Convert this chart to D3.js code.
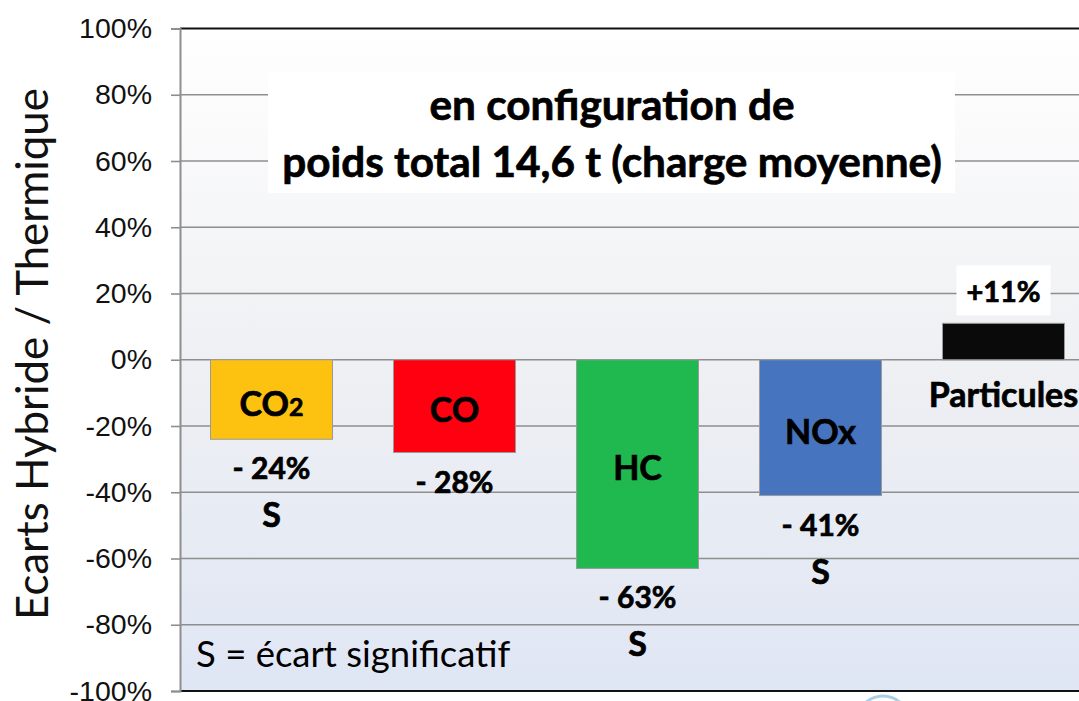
<!DOCTYPE html>
<html>
<head>
<meta charset="utf-8">
<script src="https://cdn.jsdelivr.net/npm/d3@7"></script>
<style>
  body { margin: 0; background: #fff; }
  svg { display: block; }
  .bold { font-family: Lato, 'Open Sans', sans-serif; font-weight: bold; fill: #000; stroke: #000; stroke-width: 0.7px; }
</style>
</head>
<body>
<script>
// chart data
const categories = ["CO2", "CO", "HC", "NOx", "Particules"];
const values = [-24, -28, -63, -41, 11];
const valueLabels = ["- 24%", "- 28%", "- 63%", "- 41%", "+11%"];
const significant = [true, false, true, true, false];
const barColors = ["#FDC20F", "#FF0010", "#20B94F", "#4674BE", "#0A0A0A"];
const tickValues = [-100, -80, -60, -40, -20, 0, 20, 40, 60, 80, 100];
const titleLines = ["en configuration de", "poids total 14,6 t (charge moyenne)"];
const yTitle = "Ecarts  Hybride / Thermique";
const note = "S = écart significatif";

const w = 1079;
const h = 701;
const plotLeft = 180;
const plotTop = 28.5;
const plotBottom = 691;

let svg = d3.select("body")
            .append("svg")
            .attr("width", w)
            .attr("height", h);

let x = d3.scaleBand()
          .domain(categories)
          .range([plotLeft, plotLeft + 183 * categories.length])
          .paddingInner(1 / 3)
          .paddingOuter(1 / 6);

let y = d3.scaleLinear()
          .domain([-100, 100])
          .range([plotBottom, plotTop]);

// background gradient
let grad = svg.append("defs")
              .append("linearGradient")
              .attr("id", "bg")
              .attr("x1", 0).attr("y1", 0)
              .attr("x2", 0).attr("y2", 1);
grad.append("stop").attr("offset", "0%").attr("stop-color", "#FFFFFF");
grad.append("stop").attr("offset", "50%").attr("stop-color", "#EFF0F3");
grad.append("stop").attr("offset", "100%").attr("stop-color", "#DFE6F4");

svg.append("rect")
   .attr("x", plotLeft)
   .attr("y", plotTop)
   .attr("width", w - plotLeft)
   .attr("height", plotBottom - plotTop)
   .attr("fill", "url(#bg)");

// gridlines
svg.append("g")
   .selectAll("line")
   .data(tickValues.filter(d => d > -100 && d < 100))
   .enter()
   .append("line")
   .attr("x1", plotLeft)
   .attr("x2", w)
   .attr("y1", d => y(d))
   .attr("y2", d => y(d))
   .attr("stroke", "#8E8E8E")
   .attr("stroke-width", 1.6);

// top and bottom border
svg.append("line")
   .attr("x1", plotLeft).attr("x2", w)
   .attr("y1", y(100)).attr("y2", y(100))
   .attr("stroke", "#111").attr("stroke-width", 2);
svg.append("line")
   .attr("x1", plotLeft).attr("x2", w)
   .attr("y1", y(-100)).attr("y2", y(-100))
   .attr("stroke", "#111").attr("stroke-width", 2);

// y axis
let yAxis = svg.append("g")
   .attr("transform", "translate(" + plotLeft + ",0)")
   .call(d3.axisLeft(y)
           .tickValues(tickValues)
           .tickSize(9)
           .tickPadding(19)
           .tickFormat(d => d + "%"));
yAxis.select(".domain")
     .attr("stroke", "#8E8E8E")
     .attr("stroke-width", 2);
yAxis.selectAll(".tick line")
     .attr("stroke", "#8E8E8E")
     .attr("stroke-width", 1.6);
yAxis.selectAll(".tick text")
     .attr("fill", "#111")
     .style("font-family", "'Liberation Sans', Arial, sans-serif")
     .style("font-size", "28.5px");

// y title, sized to span the same length as the reference
let yt = svg.append("text")
   .attr("transform", "translate(48," + 354 + ") rotate(-90)")
   .attr("text-anchor", "middle")
   .attr("fill", "#111")
   .style("font-family", "Lato, 'Open Sans', sans-serif")
   .style("font-size", "38px")
   .text(yTitle);
let ytLen = yt.node().getComputedTextLength();
yt.style("font-size", (38 * 532 / ytLen) + "px");

// title box
svg.append("rect")
   .attr("x", 268).attr("y", 72)
   .attr("width", 687).attr("height", 121)
   .attr("fill", "#fff");

let titles = titleLines.map((t, i) => svg.append("text")
       .attr("class", "bold")
       .attr("x", 612)
       .attr("y", 120 + i * 57)
       .attr("text-anchor", "middle")
       .style("font-size", "34px")
       .text(t));
let titleLen = titles[1].node().getComputedTextLength();
titles.forEach(t => t.style("font-size", (34 * 660 / titleLen) + "px"));

let rows = categories.map((c, i) => ({
    name: c,
    value: values[i],
    label: valueLabels[i],
    sig: significant[i],
    color: barColors[i]
}));

// bars
svg.append("g")
   .selectAll("rect")
   .data(rows)
   .enter()
   .append("rect")
   .attr("x", d => x(d.name))
   .attr("width", x.bandwidth())
   .attr("y", d => y(Math.max(0, d.value)))
   .attr("height", d => Math.abs(y(d.value) - y(0)))
   .attr("fill", d => d.color)
   .attr("stroke", "#9A9A9A")
   .attr("stroke-width", 1);

// category names
let neg = rows.filter(d => d.value < 0);
let names = svg.append("g")
   .selectAll("text")
   .data(neg)
   .enter()
   .append("text")
   .attr("class", "bold")
   .attr("x", d => x(d.name) + x.bandwidth() / 2)
   .attr("y", d => (y(0) + y(d.value)) / 2 + 16)
   .attr("text-anchor", "middle")
   .style("font-size", "34px");
names.each(function(d) {
    let t = d3.select(this);
    if (d.name === "CO2") {
        t.append("tspan").text("CO");
        t.append("tspan").style("font-size", "25px").text("2");
    } else {
        t.text(d.name);
    }
});

let pos = rows.filter(d => d.value >= 0);
svg.append("g")
   .selectAll("text")
   .data(pos)
   .enter()
   .append("text")
   .attr("class", "bold")
   .attr("x", d => x(d.name) + x.bandwidth() / 2)
   .attr("y", y(0) + 47)
   .attr("text-anchor", "middle")
   .style("font-size", "34px")
   .text(d => d.name);

// value labels
svg.append("g")
   .selectAll("text")
   .data(neg)
   .enter()
   .append("text")
   .attr("class", "bold")
   .attr("x", d => x(d.name) + x.bandwidth() / 2)
   .attr("y", d => y(d.value) + 40)
   .attr("text-anchor", "middle")
   .style("font-size", "30px")
   .text(d => d.label);

// positive label with white box
pos.forEach(d => {
    let cx = x(d.name) + x.bandwidth() / 2;
    svg.append("rect")
       .attr("x", cx - 47).attr("y", y(d.value) - 58)
       .attr("width", 94).attr("height", 50)
       .attr("fill", "#fff");
    svg.append("text")
       .attr("class", "bold")
       .attr("x", cx)
       .attr("y", y(d.value) - 21)
       .attr("text-anchor", "middle")
       .style("font-size", "29px")
       .text(d.label);
});

// significance markers
svg.append("g")
   .selectAll("text")
   .data(neg.filter(d => d.sig))
   .enter()
   .append("text")
   .attr("class", "bold")
   .attr("x", d => x(d.name) + x.bandwidth() / 2)
   .attr("y", d => y(d.value) + 88)
   .attr("text-anchor", "middle")
   .style("font-size", "34px")
   .text("S");

// note
svg.append("text")
   .attr("x", 196)
   .attr("y", 667)
   .attr("fill", "#000")
   .style("font-family", "Lato, 'Open Sans', sans-serif")
   .style("font-size", "36.5px")
   .text(note);

// logo patch at the bottom right
svg.append("rect")
   .attr("x", 843).attr("y", plotBottom + 1)
   .attr("width", 232).attr("height", h - plotBottom)
   .attr("fill", "#fff");
svg.append("circle")
   .attr("cx", 883).attr("cy", 722)
   .attr("r", 26)
   .attr("fill", "none")
   .attr("stroke", "#A9CFE8")
   .attr("stroke-width", 3);
</script>
</body>
</html>
